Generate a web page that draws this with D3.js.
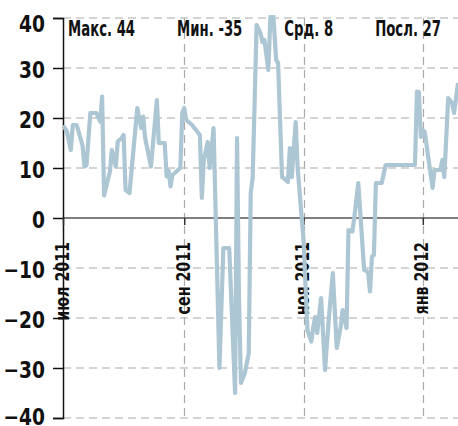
<!DOCTYPE html>
<html>
<head>
<meta charset="utf-8">
<script src="https://cdn.jsdelivr.net/npm/d3@7"></script>
<style>
  html, body { margin: 0; padding: 0; background: #fff; }
  svg { display: block; }
  text { font-family: "DejaVu Sans Condensed", "DejaVu Sans", sans-serif; font-weight: bold; fill: #111; }
</style>
</head>
<body>
<svg id="chart" width="458" height="426"></svg>
<script>
// Daily series, Jul 2011 – Jan 2012
const dates = [
  "2011-07-01","2011-07-03","2011-07-05","2011-07-06","2011-07-08","2011-07-11","2011-07-12","2011-07-13",
  "2011-07-15","2011-07-18","2011-07-20","2011-07-21","2011-07-22","2011-07-25","2011-07-26","2011-07-28",
  "2011-07-29","2011-07-31","2011-08-01","2011-08-02","2011-08-04","2011-08-08","2011-08-10","2011-08-11",
  "2011-08-12","2011-08-15","2011-08-18","2011-08-19","2011-08-22","2011-08-23","2011-08-24","2011-08-25",
  "2011-08-26","2011-08-30","2011-08-31","2011-09-01","2011-09-02","2011-09-05","2011-09-07","2011-09-09",
  "2011-09-10","2011-09-11","2011-09-13","2011-09-14","2011-09-16","2011-09-19","2011-09-21","2011-09-24",
  "2011-09-27","2011-09-28","2011-09-29","2011-09-30","2011-10-02","2011-10-04","2011-10-05","2011-10-06",
  "2011-10-08","2011-10-10","2011-10-11","2011-10-12","2011-10-14","2011-10-15","2011-10-16","2011-10-18",
  "2011-10-19","2011-10-21","2011-10-23","2011-10-24","2011-10-25","2011-10-26","2011-10-28","2011-10-29",
  "2011-11-01","2011-11-03","2011-11-05","2011-11-06","2011-11-07","2011-11-08","2011-11-10","2011-11-12",
  "2011-11-14","2011-11-16","2011-11-18","2011-11-20","2011-11-21","2011-11-23","2011-11-24","2011-11-26",
  "2011-11-27","2011-11-29","2011-12-02","2011-12-04","2011-12-05","2011-12-06","2011-12-07","2011-12-08",
  "2011-12-11","2011-12-13","2011-12-28","2011-12-29","2011-12-30","2011-12-31","2012-01-01","2012-01-02",
  "2012-01-04","2012-01-06","2012-01-07","2012-01-10","2012-01-11","2012-01-12","2012-01-14","2012-01-16",
  "2012-01-17","2012-01-19"
];
const values = [
  18.5, 17.3, 13.6, 18.6, 18.6, 14.5, 10.3, 10.5,
  21, 21, 19.3, 24.3, 4.5, 9.3, 13.6, 10.3,
  15.3, 16, 16.6, 5.6, 5, 22, 18, 20.3,
  16, 10.3, 23.6, 15, 15, 8.3, 9.5, 6.3,
  8.6, 10, 21, 22, 19.6, 18.6, 17.6, 16.6,
  4, 11.6, 15.2, 10, 18, -30, -6, -6,
  -35, 16, -16, -33, -31, -27, 5, 8,
  38.6, 37, 35.2, 35.6, 29.6, 39.6, 44, 31.6,
  31, 8.2, 7.6, 7.2, 14, 8.2, 19.2, 10,
  -4.4, -22.4, -24.7, -21.8, -19.8, -23, -16, -30.4,
  -19.8, -11, -26, -21.8, -18.4, -22, -2.4, -2.7,
  0.2, 7, -10.4, -10.8, -14.7, -7.7, -7.4, 7,
  7, 10.6, 10.6, 25.3, 25.2, 16.2, 17.6, 17.2,
  11.6, 6, 9.6, 9.6, 11.6, 8.2, 24, 23,
  21, 27
];
const yTicks = [-40, -30, -20, -10, 0, 10, 20, 30, 40];
const xTickDates = ["2011-07-01", "2011-09-01", "2011-11-01", "2012-01-01"];
const monthNames = ["янв","фев","мар","апр","май","июн","июл","авг","сен","окт","ноя","дек"];
const summaryLabels = ["Макс.", "Мин.", "Срд.", "Посл."];
const summaryValues = [44, -35, 8, 27];

const parse = d3.timeParse("%Y-%m-%d");
const series = dates.map((d, i) => ({ date: parse(d), value: values[i] }));
const ticks = xTickDates.map(parse);

const svg = d3.select("#chart");
const plotLeft = 63, plotRight = 458, plotTop = 18, plotBottom = 418;

const x = d3.scaleTime()
  .domain([parse("2011-07-01"), parse("2012-01-19")])
  .range([plotLeft, plotRight]);
const y = d3.scaleLinear().domain([-40, 40]).range([plotBottom, plotTop]);

// horizontal grid
svg.append("g")
  .selectAll("line")
  .data(yTicks.filter(v => v !== 0))
  .join("line")
  .attr("x1", plotLeft).attr("x2", plotRight)
  .attr("y1", d => y(d)).attr("y2", d => y(d))
  .attr("stroke", "#aaa").attr("stroke-width", 1.2)
  .attr("stroke-dasharray", "8,5");

// vertical grid at month ticks
svg.append("g")
  .selectAll("line")
  .data(ticks.slice(1))
  .join("line")
  .attr("x1", d => Math.round(x(d)) + 0.5).attr("x2", d => Math.round(x(d)) + 0.5)
  .attr("y1", plotTop).attr("y2", plotBottom)
  .attr("stroke", "#aaa").attr("stroke-width", 1.2)
  .attr("stroke-dasharray", "8,5");

// zero line
svg.append("line")
  .attr("x1", plotLeft).attr("x2", plotRight)
  .attr("y1", y(0)).attr("y2", y(0))
  .attr("stroke", "#555").attr("stroke-width", 1.5);

// y axis
const yAxis = d3.axisLeft(y).tickValues(yTicks).tickSize(10).tickPadding(8);
const gy = svg.append("g").attr("transform", `translate(${plotLeft},0)`).call(yAxis);
gy.select(".domain").attr("stroke", "#111").attr("stroke-width", 1.5);
gy.selectAll(".tick line").attr("stroke", "#111").attr("stroke-width", 1.5);
gy.selectAll(".tick text")
  .style("font-size", "23px")
  .attr("fill", "#111")
  .attr("x", 0)
  .attr("dy", d => d === 40 ? "0.6em" : d === -40 ? "0.27em" : "0.42em")
  .attr("transform", "translate(-18,0) scale(0.9,1)");

// x axis on the zero line, rotated month labels (narrowed)
const xAxis = d3.axisBottom(x).tickValues(ticks).tickSize(7)
  .tickFormat(d => `${monthNames[d.getMonth()]} ${d.getFullYear()}`);
const gx = svg.append("g").attr("transform", `translate(0,${y(0)})`).call(xAxis);
gx.select(".domain").remove();
gx.selectAll(".tick line").attr("stroke", "#333").attr("stroke-width", 1.5);
gx.selectAll(".tick text")
  .style("font-size", "20px")
  .attr("fill", "#111")
  .attr("text-anchor", "end")
  .attr("dy", "0.25em")
  .attr("x", 0).attr("y", 0)
  .attr("transform", "translate(0,24) rotate(-90) scale(0.79,1)");

// series line, clipped to the plot
svg.append("clipPath").attr("id", "plot-clip")
  .append("rect").attr("x", plotLeft).attr("y", 15)
  .attr("width", plotRight - plotLeft).attr("height", plotBottom - 15);

const line = d3.line().x(d => x(d.date)).y(d => y(d.value));
svg.append("path")
  .datum(series)
  .attr("clip-path", "url(#plot-clip)")
  .attr("fill", "none")
  .attr("stroke", "#adc6d4")
  .attr("stroke-width", 4.2)
  .attr("stroke-linejoin", "round")
  .attr("d", line);

// summary labels across the top, in a narrow setting
const narrow = 0.67;
const summary = svg.append("g");
let cx = 68;
summaryLabels.forEach((lab, i) => {
  const t = summary.append("text")
    .attr("transform", `translate(${cx},35.5) scale(${narrow},1)`)
    .style("font-size", "22px")
    .text(`${lab} ${summaryValues[i]}`);
  cx += t.node().getComputedTextLength() * narrow + 42;
});
</script>
</body>
</html>
